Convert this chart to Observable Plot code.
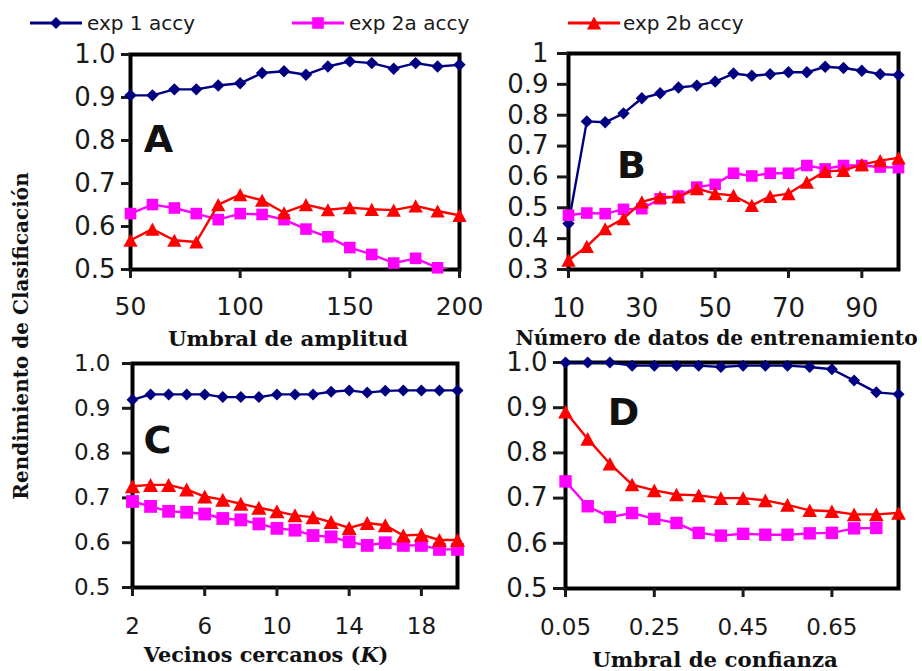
<!DOCTYPE html>
<html><head><meta charset="utf-8">
<script src="https://cdn.jsdelivr.net/npm/d3@7"></script>
<script src="https://cdn.jsdelivr.net/npm/@observablehq/plot@0.6"></script>
<style>
body{margin:0;background:#fff;}
#root{position:relative;width:922px;height:671px;overflow:hidden;background:#fff;}
.legend-item{position:absolute;top:8px;height:30px;display:flex;align-items:center;font-family:"DejaVu Sans";font-size:20px;color:#1a1a1a;white-space:nowrap;}
#ylab{position:absolute;left:21px;top:336px;transform:translate(-50%,-50%) rotate(-90deg);font-family:"DejaVu Serif";font-weight:bold;font-size:20px;color:#111;white-space:nowrap;}
</style></head>
<body><div id="root"></div>
<script>
// ---------- data ----------
const SERIES = ["exp 1 accy", "exp 2a accy", "exp 2b accy"];
const COLORS = ["#000080", "#ff00ff", "#ff0000"];

const X_A = [50,60,70,80,90,100,110,120,130,140,150,160,170,180,190,200];
const A_EXP1  = [0.905,0.905,0.919,0.919,0.928,0.933,0.957,0.961,0.953,0.972,0.984,0.980,0.967,0.980,0.972,0.976];
const A_EXP2A = [0.630,0.651,0.643,0.630,0.616,0.630,0.628,0.616,0.594,0.576,0.551,0.535,0.515,0.526,0.504,0.494];
const A_EXP2B = [0.568,0.594,0.568,0.564,0.651,0.674,0.661,0.632,0.651,0.639,0.644,0.640,0.638,0.648,0.636,0.626];

const X_B = [10,15,20,25,30,35,40,45,50,55,60,65,70,75,80,85,90,95,100];
const B_EXP1  = [0.449,0.780,0.777,0.806,0.855,0.871,0.890,0.896,0.909,0.935,0.928,0.933,0.939,0.939,0.957,0.953,0.944,0.933,0.930];
const B_EXP2A = [0.476,0.483,0.481,0.495,0.497,0.529,0.538,0.567,0.576,0.612,0.603,0.612,0.612,0.637,0.626,0.637,0.637,0.632,0.630];
const B_EXP2B = [0.330,0.375,0.432,0.465,0.519,0.535,0.535,0.562,0.546,0.540,0.508,0.537,0.546,0.583,0.618,0.621,0.640,0.653,0.662];

const X_C = [2,3,4,5,6,7,8,9,10,11,12,13,14,15,16,17,18,19,20];
const C_EXP1  = [0.919,0.931,0.931,0.931,0.931,0.925,0.925,0.925,0.931,0.931,0.931,0.937,0.940,0.935,0.939,0.940,0.940,0.940,0.940];
const C_EXP2A = [0.692,0.681,0.670,0.668,0.664,0.654,0.651,0.642,0.632,0.628,0.616,0.613,0.602,0.594,0.600,0.594,0.594,0.585,0.585];
const C_EXP2B = [0.726,0.729,0.729,0.719,0.703,0.696,0.687,0.678,0.670,0.661,0.657,0.646,0.633,0.644,0.639,0.616,0.618,0.606,0.606];

const X_D = [0.05,0.10,0.15,0.20,0.25,0.30,0.35,0.40,0.45,0.50,0.55,0.60,0.65,0.70,0.75,0.80];
const D_EXP1  = [1.000,1.000,1.000,0.993,0.993,0.993,0.993,0.990,0.993,0.993,0.993,0.990,0.985,0.960,0.934,0.930];
const D_EXP2A = [0.737,0.682,0.658,0.667,0.654,0.645,0.623,0.617,0.621,0.619,0.619,0.622,0.623,0.633,0.634];
const D_EXP2B = [0.891,0.831,0.776,0.730,0.717,0.708,0.706,0.700,0.700,0.695,0.685,0.673,0.671,0.664,0.664,0.667];

const TICKS_X_A = [50,100,150,200];
const TICKS_X_B = [10,30,50,70,90];
const TICKS_X_C = [2,6,10,14,18];
const TICKS_X_D = [0.05,0.25,0.45,0.65];
const TICKS_Y_A = [0.5,0.6,0.7,0.8,0.9,1.0];
const TICKS_Y_B = [0.3,0.4,0.5,0.6,0.7,0.8,0.9,1.0];

const TITLES = ["Umbral de amplitud","Número de datos de entrenamiento","Vecinos cercanos (K)","Umbral de confianza"];
const LETTERS = ["A","B","C","D"];
const Y_LABEL = "Rendimiento de Clasificación";

// ---------- symbols ----------
const symDiamond = {draw(c, size){const r=Math.sqrt(size/Math.PI);c.moveTo(0,-r);c.lineTo(r,0);c.lineTo(0,r);c.lineTo(-r,0);c.closePath();}};
const symSquare = {draw(c, size){const r=Math.sqrt(size/Math.PI);c.rect(-r,-r,2*r,2*r);}};
const symTriangle = {draw(c, size){const r=Math.sqrt(size/Math.PI);c.moveTo(0,-r);c.lineTo(r*1.08,r);c.lineTo(-r*1.08,r);c.closePath();}};
const SYMBOLS = [symDiamond, symSquare, symTriangle];

const root = document.getElementById("root");

function rows(xs, ys){ return ys.map((y,i)=>({x:xs[i], y})); }

function panel(cfg){
  const ML=80, MR=24, MT=14, MB=95;
  const fw = cfg.frame.r - cfg.frame.l, fh = cfg.frame.b - cfg.frame.t;
  const [y0,y1] = cfg.yDomain;
  const marks = [Plot.frame({stroke:"black", strokeWidth:4})];
  marks.push(Plot.axisX({ticks: cfg.xTicks, tickFormat: cfg.xFormat, tickSize: cfg.xTickSize, tickPadding: cfg.xPad, strokeWidth: 3, fontSize: cfg.xFont, label: null, anchor:"bottom"}));
  marks.push(Plot.axisY({ticks: cfg.yTicks, tickFormat: cfg.yFormat, tickSize: cfg.yTickSize, tickPadding: cfg.yPad, strokeWidth: 3, fontSize: cfg.yFont, label: null, anchor:"left"}));
  cfg.series.forEach((ys, k) => {
    const data = rows(cfg.x, ys);
    marks.push(Plot.line(data, {x:"x", y:"y", stroke: COLORS[k], strokeWidth: 2.4, clip: true}));
    marks.push(Plot.dot(data.filter(d => d.y >= y0 - 1e-9 && d.y <= y1 + 1e-9), {x:"x", y:"y", symbol: SYMBOLS[k], r: cfg.r[k], fill: COLORS[k], stroke: "none"}));
  });
  marks.push(Plot.text([cfg.letter], {text: d=>d, frameAnchor:"top-left", dx: cfg.letterPos[0], dy: cfg.letterPos[1], fontSize: 38, fontWeight:"bold", fontFamily:"DejaVu Sans", textAnchor:"middle", lineAnchor:"middle", fill:"#111"}));
  marks.push(Plot.text([cfg.title], {text: d=>d, frameAnchor:"bottom", dx: cfg.titlePos[0], dy: cfg.titlePos[1], fontSize: cfg.titleSize, fontWeight:"bold", fontFamily:"DejaVu Serif", textAnchor:"middle", lineAnchor:"middle", fill:"#111"}));
  const svg = Plot.plot({
    width: ML + fw + MR, height: MT + fh + MB,
    marginLeft: ML, marginRight: MR, marginTop: MT, marginBottom: MB,
    x: {domain: cfg.xDomain},
    y: {domain: cfg.yDomain},
    style: {overflow:"visible", background:"transparent", fontFamily:"DejaVu Sans", color:"#1a1a1a"},
    marks
  });
  // italic K in "Vecinos cercanos (K)"
  d3.select(svg).selectAll("text").each(function(){
    const el = d3.select(this);
    if (el.text() === "Vecinos cercanos (K)") {
      const target = el.select("tspan").empty() ? el : el.select("tspan");
      target.text(null);
      target.append("tspan").text("Vecinos cercanos (");
      target.append("tspan").attr("font-style","italic").text("K");
      target.append("tspan").text(")");
    }
  });
  svg.style.position = "absolute";
  svg.style.left = (cfg.frame.l - ML) + "px";
  svg.style.top = (cfg.frame.t - MT) + "px";
  root.appendChild(svg);
}

const f1 = d3.format(".1f");
panel({frame:{l:130,r:459,t:54,b:269}, x:X_A, series:[A_EXP1,A_EXP2A,A_EXP2B], xDomain:[50,200], yDomain:[0.5,1.0],
  xTicks:TICKS_X_A, yTicks:TICKS_Y_A, xFormat:d3.format("d"), yFormat:f1, xTickSize:9, xPad:19, yTickSize:9, yPad:6, xFont:25, yFont:26,
  r:[6.2,5.8,6.6], letter:LETTERS[0], letterPos:[28,85], title:TITLES[0], titlePos:[-7,70], titleSize:21.3});
panel({frame:{l:568,r:898,t:53,b:269}, x:X_B, series:[B_EXP1,B_EXP2A,B_EXP2B], xDomain:[10,100], yDomain:[0.3,1.0],
  xTicks:TICKS_X_B, yTicks:TICKS_Y_B, xFormat:d3.format("d"), yFormat:d=>d===1?"1":f1(d), xTickSize:9, xPad:20, yTickSize:11, yPad:9, xFont:26, yFont:26,
  r:[6.2,5.8,6.6], letter:LETTERS[1], letterPos:[63,112], title:TITLES[1], titlePos:[-17,69], titleSize:20.2});
panel({frame:{l:132,r:457,t:363,b:587}, x:X_C, series:[C_EXP1,C_EXP2A,C_EXP2B], xDomain:[2,20], yDomain:[0.5,1.0],
  xTicks:TICKS_X_C, yTicks:TICKS_Y_A, xFormat:d3.format("d"), yFormat:f1, xTickSize:9, xPad:21, yTickSize:10, yPad:12, xFont:23, yFont:23,
  r:[6,6.4,7], letter:LETTERS[2], letterPos:[25,77], title:TITLES[2], titlePos:[-29,68], titleSize:20.8});
panel({frame:{l:565,r:898,t:362,b:588}, x:X_D, series:[D_EXP1,D_EXP2A,D_EXP2B], xDomain:[0.05,0.80], yDomain:[0.5,1.0],
  xTicks:TICKS_X_D, yTicks:TICKS_Y_A, xFormat:d3.format(".2f"), yFormat:f1, xTickSize:9, xPad:21, yTickSize:12, yPad:6, xFont:23, yFont:26,
  r:[6,6.2,6.8], letter:LETTERS[3], letterPos:[58,50], title:TITLES[3], titlePos:[-17,72], titleSize:21.3});

// ---------- legend ----------
const LEGEND_POS = [[30,87],[292,349],[568,623]];
SERIES.forEach((name,k)=>{
  const [lx, tx] = LEGEND_POS[k];
  const sw = d3.create("svg").attr("width",52).attr("height",30)
    .style("position","absolute").style("left",lx+"px").style("top","8px");
  sw.append("line").attr("x1",0).attr("x2",52).attr("y1",15).attr("y2",15).attr("stroke",COLORS[k]).attr("stroke-width",3);
  sw.append("path").attr("transform","translate(26,15)").attr("fill",COLORS[k])
    .attr("d", d3.symbol(SYMBOLS[k], Math.PI*(k===0?6:k===1?5.8:6.6)**2)());
  root.appendChild(sw.node());
  const t = document.createElement("div");
  t.className = "legend-item"; t.style.left = tx+"px"; t.textContent = name;
  root.appendChild(t);
});

const yl = document.createElement("div");
yl.id = "ylab"; yl.textContent = Y_LABEL;
root.appendChild(yl);
</script>
</body></html>
